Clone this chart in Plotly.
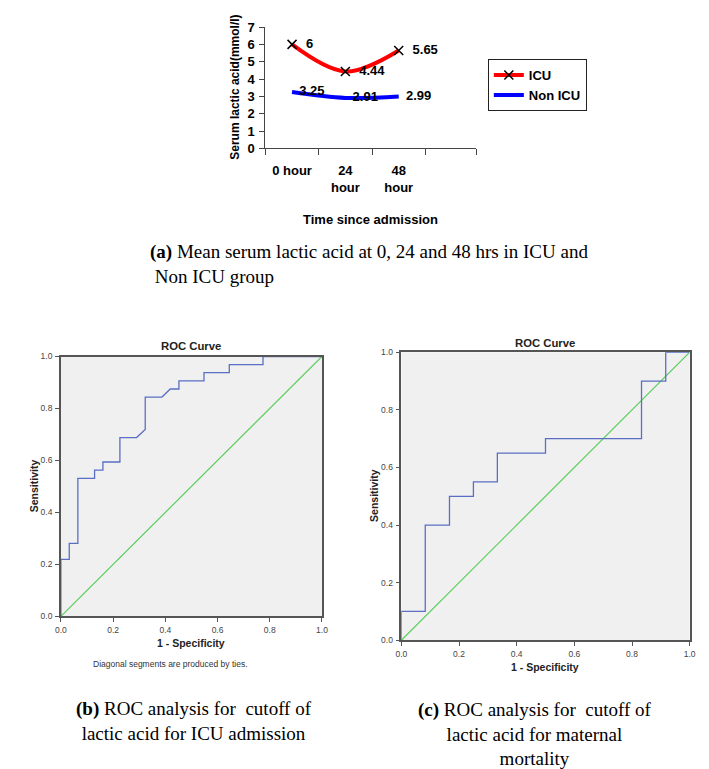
import plotly.graph_objects as go

W, H = 709, 769

# ---------------- data ----------------
time_labels = ["0 hour", "24<br>hour", "48<br>hour"]
time_pos = [0, 1, 2]
icu_lactate = [6, 4.44, 5.65]
non_icu_lactate = [3.25, 2.91, 2.99]
icu_text = ["6", "4.44", "5.65"]
non_icu_text = ["3.25", "2.91", "2.99"]

roc_b_fpr = [0, 0, 0.032, 0.032, 0.065, 0.065, 0.129, 0.129, 0.161, 0.161, 0.226, 0.226, 0.290,
             0.323, 0.323, 0.387, 0.419, 0.452, 0.452, 0.548, 0.548, 0.645, 0.645, 0.774, 0.774, 1.0]
roc_b_tpr = [0, 0.219, 0.219, 0.281, 0.281, 0.531, 0.531, 0.563, 0.563, 0.594, 0.594, 0.688, 0.688,
             0.719, 0.844, 0.844, 0.875, 0.875, 0.906, 0.906, 0.938, 0.938, 0.969, 0.969, 1.0, 1.0]
roc_c_fpr = [0, 0, 0.083, 0.083, 0.167, 0.167, 0.25, 0.25, 0.333, 0.333, 0.5, 0.5, 0.833, 0.833,
             0.917, 0.917, 1.0]
roc_c_tpr = [0, 0.1, 0.1, 0.4, 0.4, 0.5, 0.5, 0.55, 0.55, 0.65, 0.65, 0.7, 0.7, 0.9, 0.9, 1.0, 1.0]
diag = [0, 1]
roc_ticks = [0, 0.2, 0.4, 0.6, 0.8, 1.0]


def px(x):
    return x / W


def py(y):
    return 1 - y / H


SANS = "Liberation Sans"
SERIF = "Liberation Serif"

fig = go.Figure()

# ---------------- (a) line chart ----------------
fig.add_trace(go.Scatter(
    x=time_pos, y=icu_lactate, name="ICU", mode="lines+markers+text",
    text=icu_text, texttemplate="  %{text}", textposition="middle right",
    textfont=dict(family=SANS, size=13, color="black", weight="bold"),
    line=dict(color="#ff0000", width=4, shape="spline", smoothing=1),
    marker=dict(symbol="x-thin", size=9, color="black", line=dict(color="black", width=1.5)),
    xaxis="x", yaxis="y", cliponaxis=False))
fig.add_trace(go.Scatter(
    x=time_pos, y=non_icu_lactate, name="Non ICU", mode="lines+text",
    text=non_icu_text, texttemplate="  %{text}", textposition="middle right",
    textfont=dict(family=SANS, size=13, color="black", weight="bold"),
    line=dict(color="#0000ff", width=4, shape="spline", smoothing=1),
    xaxis="x", yaxis="y", cliponaxis=False))

# ---------------- (b) ROC ----------------
fig.add_trace(go.Scatter(x=diag, y=diag, mode="lines", showlegend=False,
                         line=dict(color="#5ccc5c", width=1.2), xaxis="x2", yaxis="y2"))
fig.add_trace(go.Scatter(x=roc_b_fpr, y=roc_b_tpr, mode="lines", showlegend=False,
                         line=dict(color="#5a6ec4", width=1.3), xaxis="x2", yaxis="y2"))

# ---------------- (c) ROC ----------------
fig.add_trace(go.Scatter(x=diag, y=diag, mode="lines", showlegend=False,
                         line=dict(color="#5ccc5c", width=1.2), xaxis="x3", yaxis="y3"))
fig.add_trace(go.Scatter(x=roc_c_fpr, y=roc_c_tpr, mode="lines", showlegend=False,
                         line=dict(color="#5a6ec4", width=1.3), xaxis="x3", yaxis="y3"))

axis_a_font = dict(family=SANS, size=13, color="black", weight="bold")
roc_tick_font = dict(family=SANS, size=8.5, color="#444444")


def roc_axis(domain, anchor):
    return dict(domain=domain, anchor=anchor, range=[0, 1], tickvals=roc_ticks,
                tickformat=".1f", ticks="outside", ticklen=4, tickcolor="#555555",
                showline=True, linecolor="#555555", linewidth=1.5, mirror=True,
                showgrid=False, zeroline=False, tickfont=roc_tick_font, ticklabelstandoff=1)


fig.update_layout(
    width=W, height=H,
    margin=dict(l=0, r=0, t=0, b=0),
    paper_bgcolor="white", plot_bgcolor="white",
    showlegend=True,
    legend=dict(x=px(482), y=py(45), xanchor="left", yanchor="top",
                bordercolor="#222222", borderwidth=1, bgcolor="white",
                font=dict(family=SANS, size=13, color="black", weight="bold"),
                tracegroupgap=0, itemwidth=30),
    xaxis=dict(domain=[px(255.7), px(470)], anchor="y", range=[-0.5, 3.45],
               tickmode="array", tickvals=time_pos, ticktext=time_labels, ticks="",
               minor=dict(tickmode="array", tickvals=[-0.5, 0.5, 1.5, 2.5, 3.45],
                          ticks="outside", ticklen=6, tickcolor="#444444", showgrid=False),
               showline=True, linecolor="#444444", linewidth=1, showgrid=False,
               zeroline=False, tickfont=axis_a_font, ticklabelstandoff=10),
    yaxis=dict(domain=[py(136), py(12.3)], anchor="x", range=[0, 7], dtick=1,
               ticks="outside", ticklen=5, tickcolor="#444444",
               showline=True, linecolor="#444444", linewidth=1, showgrid=False,
               zeroline=False, tickfont=axis_a_font, ticklabelstandoff=2),
    xaxis2=roc_axis([px(47.7), px(313.3)], "y2"),
    yaxis2=roc_axis([py(613.3), py(348.3)], "x2"),
    xaxis3=roc_axis([px(394), px(687.3)], "y3"),
    yaxis3=roc_axis([py(637.7), py(344)], "x3"),
)

# grey plot backgrounds for ROC panels
for ax in ["2", "3"]:
    fig.add_shape(type="rect", xref=f"x{ax} domain", yref=f"y{ax} domain",
                  x0=0, x1=1, y0=0, y1=1, fillcolor="#f0f0f0", line=dict(width=0),
                  layer="below")

ann = []


def add_text(text, x, y, size, family=SANS, bold=False, angle=0, xanchor="center",
             align="center", color="black", yanchor="middle"):
    ann.append(dict(text=text, x=px(x), y=py(y), xref="paper", yref="paper",
                    showarrow=False, textangle=angle, xanchor=xanchor, yanchor=yanchor,
                    align=align,
                    font=dict(family=family, size=size, color=color,
                              weight="bold" if bold else "normal")))


# (a) axis titles
add_text("Serum lactic acid(mmol/l)", 224, 74, 12, bold=True, angle=-90)
add_text("Time since admission", 363, 209, 13, bold=True)
# (a) caption
add_text("<b>(a)</b> Mean serum lactic acid at 0, 24 and 48 hrs in ICU and<br> Non ICU group",
         136, 254, 19, family=SERIF, xanchor="left", align="left")

# (b) titles
add_text("ROC Curve", 180.5, 338, 11.3, bold=True, color="#222222")
add_text("Sensitivity", 20, 480, 10.5, bold=True, angle=-90, color="#222222")
add_text("1 - Specificity", 180.5, 640, 10.5, bold=True, color="#222222")
add_text("Diagonal segments are produced by ties.", 78, 662, 8.5, xanchor="left",
         color="#333333")
add_text("<b>(b)</b> ROC analysis for  cutoff of<br>lactic acid for ICU admission",
         183, 720, 19, family=SERIF)

# (c) titles
add_text("ROC Curve", 540.6, 335, 11.3, bold=True, color="#222222")
add_text("Sensitivity", 366.7, 490, 10.5, bold=True, angle=-90, color="#222222")
add_text("1 - Specificity", 540.6, 665, 10.5, bold=True, color="#222222")
add_text("<b>(c)</b> ROC analysis for  cutoff of<br>lactic acid for maternal<br>mortality",
         530, 733, 19, family=SERIF)

fig.update_layout(annotations=ann)

fig.write_html("out.html")
